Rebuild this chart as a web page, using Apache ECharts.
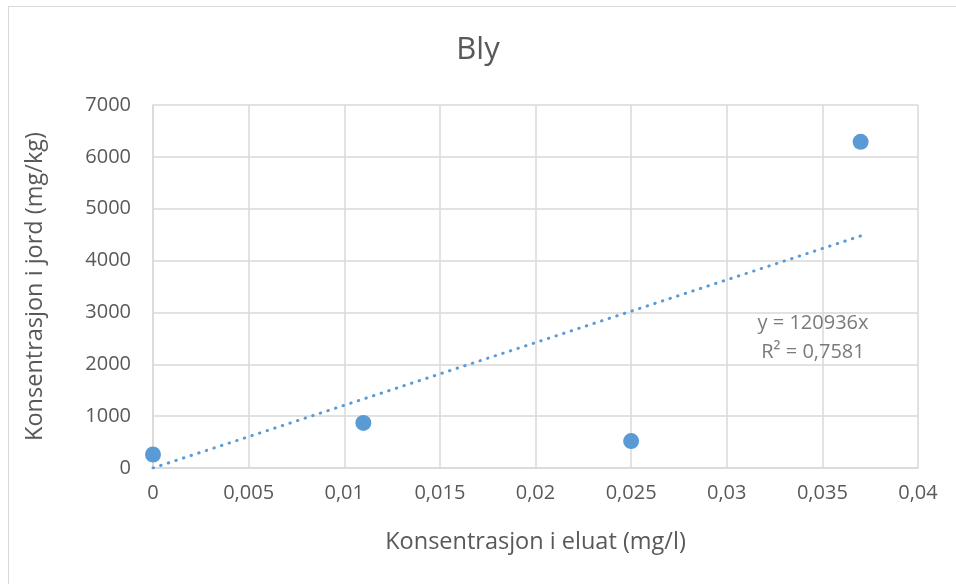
<!DOCTYPE html>
<html><head><meta charset="utf-8">
<script src="https://cdn.jsdelivr.net/npm/echarts@6/dist/echarts.min.js"></script>
<style>html,body{margin:0;padding:0;background:#fff}#c{width:956px;height:584px}</style>
</head><body><div id="c"></div>
<script>
var xValues = [0, 0.011, 0.025, 0.037];
var yValues = [260, 870, 520, 6290];
var slope = 120936;
var trendX = [0, 0.037];
var eqLabel = 'y = 120936x';
var r2Label = 'R² = 0,7581';
var titleText = 'Bly';
var xTitle = 'Konsentrasjon i eluat (mg/l)';
var yTitle = 'Konsentrasjon i jord (mg/kg)';

var pts = xValues.map(function(x, i){ return [x, yValues[i]]; });
var trend = trendX.map(function(x){ return [x, slope * x]; });
var font = 'Open Sans, Liberation Sans, sans-serif';
var chart = echarts.init(document.getElementById('c'));
chart.setOption({
  animation: false,
  title: {text: titleText, left: 'center', top: 30, textStyle: {fontFamily: font, fontSize: 31, fontWeight: 'normal', color: '#595959'}},
  graphic: [
    {type: 'line', shape: {x1: 8.5, y1: 6, x2: 8.5, y2: 584}, style: {stroke: '#d9d9d9', lineWidth: 1}},
    {type: 'line', shape: {x1: 8, y1: 6.5, x2: 956, y2: 6.5}, style: {stroke: '#d9d9d9', lineWidth: 1}}
  ],
  grid: {left: 153, top: 105, width: 765, height: 363},
  xAxis: {
    type: 'value', min: 0, max: 0.04, interval: 0.005,
    name: xTitle, nameLocation: 'middle', nameGap: 62,
    nameTextStyle: {fontFamily: font, fontSize: 23.5, color: '#595959'},
    axisLine: {show: true, lineStyle: {color: '#d9d9d9', width: 1.5}},
    axisTick: {show: false},
    splitLine: {show: true, lineStyle: {color: '#d9d9d9', width: 1.5}},
    axisLabel: {margin: 15, fontFamily: font, fontSize: 20, color: '#595959',
      formatter: function(v){ return String(+v.toFixed(3)).replace('.', ','); }}
  },
  yAxis: {
    type: 'value', min: 0, max: 7000, interval: 1000,
    name: yTitle, nameLocation: 'middle', nameGap: 106, nameRotate: 90,
    nameTextStyle: {fontFamily: font, fontSize: 23.5, color: '#595959'},
    axisLine: {show: true, lineStyle: {color: '#d9d9d9', width: 1.5}},
    axisTick: {show: false},
    splitLine: {show: true, lineStyle: {color: '#d9d9d9', width: 1.5}},
    axisLabel: {margin: 22, fontFamily: font, fontSize: 20, color: '#595959',
      formatter: function(v){ return String(v); }}
  },
  series: [
    {type: 'line', data: trend, symbol: 'none', silent: true,
     lineStyle: {color: '#5b9bd5', width: 3, type: [0.5, 7.5], cap: 'round'}, z: 2},
    {type: 'scatter', data: pts, symbolSize: 16, itemStyle: {color: '#5b9bd5', opacity: 1}, z: 3},
    {type: 'scatter', data: [[0.03451, 2511]], symbolSize: 0, silent: true,
     label: {show: true, position: 'inside', formatter: eqLabel + '\n' + r2Label,
       fontFamily: font, fontSize: 20, color: '#595959', lineHeight: 29, align: 'center'}}
  ]
});
</script></body></html>
